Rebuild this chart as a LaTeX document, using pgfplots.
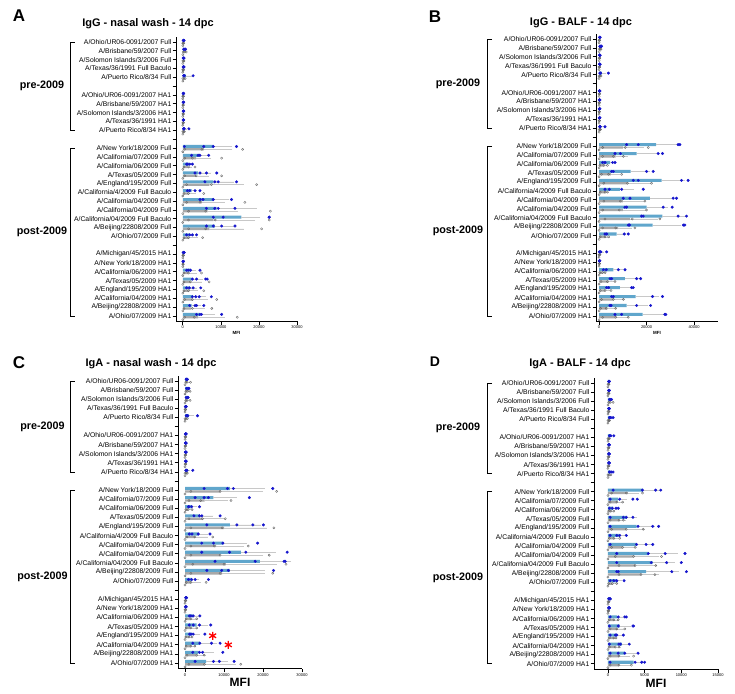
\documentclass[border=0pt]{standalone}
\usepackage{fontspec}
\setmainfont{Liberation Sans}
\usepackage{pgfplots}
\usepackage{pgfplotstable}
\pgfplotsset{compat=1.18}
\definecolor{barblue}{RGB}{96,166,204}
\definecolor{bargrey}{RGB}{168,168,168}
\definecolor{dotblue}{RGB}{22,22,205}
\definecolor{dotgrey}{RGB}{105,105,105}
\definecolor{errgrey}{RGB}{200,200,200}

\pgfplotstableread{
p bm be b1 b2 b3 b4 gm ge g1 g2 g3
1 200 100 100 200 300 250 100 100 0 150 250
2 400 300 200 400 600 700 300 300 100 500 900
3 200 100 100 200 250 300 150 100 0 200 300
4 200 100 100 150 200 300 100 50 0 100 200
5 800 1500 200 300 400 2700 300 300 0 300 600
7 150 50 100 150 200 200 100 50 0 100 150
8 150 50 100 150 200 200 100 50 0 100 150
9 150 50 100 150 200 200 100 50 0 100 150
10 150 50 100 150 200 200 100 50 0 100 150
11 500 700 200 300 300 1600 200 200 0 200 400
13 8000 5000 400 5500 8000 14100 5500 7500 500 5000 15700
14 4500 2500 2300 4000 4500 6800 3500 4000 500 2500 10200
15 1600 800 1000 1800 2500 1200 1200 1200 300 1500 3200
16 4000 3500 3200 4500 6200 8900 3500 3500 500 3500 10200
17 8000 5500 5800 8400 9300 14100 7000 9000 1000 7500 19400
18 2300 1500 1800 3200 4500 1200 1500 2000 300 1500 5500
19 8000 4000 4500 5300 8000 12800 5000 6000 1000 4500 16300
20 8900 10500 6200 8400 9300 13700 6500 8000 1500 6000 23000
21 15400 5000 8000 10600 22700 22700 8000 11000 1500 8500 22700
22 8400 5000 6200 8000 10200 13700 7000 9000 1500 6000 20700
23 1800 1000 1800 2500 3600 1000 1500 2500 300 1500 5200
25 200 100 100 200 300 300 100 50 0 100 200
26 100 50 50 100 150 150 50 50 0 50 100
27 2000 1500 1400 2000 4500 1000 1500 2200 300 1500 4900
28 2300 3000 2500 3600 6000 6400 2000 3000 300 2000 6900
29 1800 2000 1700 2700 4700 1000 1500 2500 300 1500 5500
30 2700 3500 2500 3400 4300 7500 2500 4000 500 2500 8900
31 2300 2500 1800 3200 3600 5500 2200 3500 300 2500 7600
32 4500 4000 3600 4500 4900 10200 4000 7000 500 3000 14300
}\tA

\pgfplotstableread{
p bm be b1 b2 b3 b4 gm ge g1 g2 g3
1 300 200 200 300 400 300 200 100 0 200 300
2 600 400 300 600 900 1000 400 300 100 500 800
3 300 200 200 300 400 300 200 100 0 200 300
4 300 200 200 300 400 300 200 100 0 200 300
5 1200 1800 300 500 600 3900 500 400 0 500 800
7 200 100 100 200 300 300 100 100 0 100 200
8 200 100 100 200 300 300 100 100 0 100 200
9 200 100 100 200 300 300 100 100 0 100 200
10 200 100 100 200 300 300 100 100 0 100 200
11 800 1200 300 400 500 2500 300 300 0 300 600
13 24000 10000 11600 16500 33300 34000 10000 9000 1500 11000 20700
14 15800 9000 6700 9000 24900 26700 7000 5000 1500 6000 10200
15 4600 2500 1500 2500 5700 6700 2000 1500 300 2000 3500
16 13300 8000 5300 6000 20000 22800 5000 4000 1000 4000 9500
17 26300 10000 14400 16500 34700 37500 12000 10000 2000 12000 22100
18 8800 6000 2500 4300 9500 18600 2500 1500 500 2500 3500
19 21400 10000 10200 13000 31200 32600 10000 9000 2000 9000 19300
20 20000 9000 10900 11600 27000 30800 10000 10000 1500 8500 20000
21 26700 10000 17900 18600 33300 36800 13000 12000 2500 14000 25600
22 22500 12000 12300 12800 35500 36100 8000 6000 1500 7000 15100
23 7400 4000 2500 3200 10600 12300 2500 2000 500 2500 4000
25 700 1500 140 700 700 3200 200 200 0 200 400
26 200 100 100 200 200 300 100 100 0 100 200
27 6000 4000 1800 3000 8100 10900 1500 1000 300 1500 2500
28 10900 6000 4600 5300 15800 17500 4000 3000 800 3500 6700
29 8800 5000 3200 4000 13700 14400 2500 2500 500 2500 5000
30 15400 10000 5300 6000 22500 26700 6000 5000 1000 6000 10200
31 11600 9000 4600 5000 15800 21700 3500 3500 600 3000 7000
32 18300 10000 6700 9500 27700 28100 7000 5500 1500 7000 12300
}\tB

\pgfplotstableread{
p bm be b1 b2 b3 b4 gm ge g1 g2 g3
1 500 300 300 500 600 400 500 700 200 500 1400
2 800 500 400 800 1000 900 600 600 200 700 1300
3 600 400 300 600 800 700 500 500 200 500 1300
4 200 100 100 200 200 300 100 100 0 100 200
5 900 1500 300 500 700 3200 300 300 0 300 600
7 200 100 100 200 300 200 100 100 0 100 200
8 200 100 100 200 300 200 100 100 0 100 200
9 200 100 100 200 300 200 100 100 0 100 200
10 200 100 100 200 300 200 100 100 0 100 200
11 600 800 200 400 500 2000 300 300 0 300 600
13 11500 9000 4900 10900 12400 22500 9000 11000 1500 9000 23500
14 7300 6000 2600 4900 6000 16500 5000 6000 1000 4000 11800
15 1700 1300 900 1700 3700 1000 800 800 200 800 1800
16 3800 3500 2300 3700 4300 9000 4500 5500 1000 4500 10300
17 11500 8000 5600 13300 17400 20100 10000 11000 1500 9500 22800
18 3400 2500 1100 3400 6400 1800 2500 3500 500 2500 7100
19 9800 6000 4300 7300 9700 18600 8000 7000 1500 7500 16200
20 14300 9000 4300 11400 15600 26200 9000 11000 1500 9000 21600
21 19200 8000 7700 18000 25400 25700 10500 13000 2000 10000 25900
22 11500 9000 5600 9400 11100 22700 9500 11000 1500 9000 22500
23 1700 2000 900 1700 2600 6000 1500 2500 300 1500 5400
25 300 200 200 300 400 300 100 100 0 100 200
26 200 100 100 200 300 200 100 100 0 100 200
27 2100 1500 1100 2100 3800 1500 1500 1500 300 1500 3000
28 3000 3000 1100 2100 3700 6600 1500 1500 300 1500 3000
29 1800 2000 1500 2100 5100 1200 1000 800 200 1000 1800
30 3800 4500 2000 3800 6800 9000 1500 1000 300 1500 2500
31 3400 4000 2000 3700 4500 9700 3000 2500 500 3000 4900
32 5400 5500 2600 7300 8800 12600 5000 8000 1000 5000 14300
}\tC

\pgfplotstableread{
p bm be b1 b2 b3 b4 gm ge g1 g2 g3
1 150 100 100 150 200 150 100 50 0 100 150
2 150 100 100 150 200 150 100 50 0 100 150
3 300 300 200 300 400 500 300 300 100 300 700
4 150 100 100 150 200 150 100 50 0 100 150
5 300 300 200 300 400 700 100 100 0 100 200
7 300 300 200 300 400 800 100 100 0 100 200
8 150 100 100 150 200 150 100 50 0 100 150
9 150 100 100 150 200 150 100 50 0 100 150
10 150 100 100 150 200 150 100 50 0 100 150
11 300 300 200 300 500 700 200 200 0 200 400
13 4800 2500 700 4700 6500 7200 2700 1500 500 2500 4700
14 1400 1200 300 1600 3400 4000 1200 1000 300 1200 2000
15 700 500 200 600 1100 1400 400 400 100 400 800
16 2500 1500 300 2100 2500 3400 1500 1000 300 1500 2100
17 3900 2500 300 4100 6100 6900 2500 2500 500 2500 4800
18 1500 800 300 1600 2500 1200 800 600 200 800 1600
19 3900 2000 300 3900 5200 6100 2000 2000 500 2000 3700
20 5500 4000 1200 5500 7800 10500 3500 3500 1000 3500 7300
21 6100 3000 1200 5900 8000 10000 3700 3000 1500 3700 6500
22 5200 4500 1200 1400 8700 10700 4500 2500 1500 4500 6400
23 1200 700 300 1200 2200 800 600 500 100 600 1200
25 300 200 100 200 300 300 100 50 0 100 150
26 200 100 100 150 200 200 100 50 0 50 100
27 1200 1200 300 1400 2300 2500 800 700 200 800 1400
28 1600 1500 200 1400 3400 3500 1200 1000 300 1200 2300
29 1200 800 300 1200 2100 1000 800 500 200 800 1100
30 1900 1200 200 1700 2900 1500 1000 800 200 1000 1500
31 2300 1800 300 1400 2300 4100 1500 1500 300 1500 3500
32 3500 1500 300 3700 4600 5000 1500 1500 300 1500 3200
}\tD

\pgfplotsset{
  panel/.style={
    scale only axis,
    axis x line*=bottom, axis y line*=left,
    axis line style={line width=1pt},
    ymin=-32.6, ymax=-0.4,
    ytick={-1,-2,...,-32},
    yticklabels={A/Ohio/UR06-0091/2007 Full,A/Brisbane/59/2007 Full,A/Solomon Islands/3/2006 Full,A/Texas/36/1991 Full Baculo,A/Puerto Rico/8/34 Full,{},A/Ohio/UR06-0091/2007 HA1,A/Brisbane/59/2007 HA1,A/Solomon Islands/3/2006 HA1,A/Texas/36/1991 HA1,A/Puerto Rico/8/34 HA1,{},A/New York/18/2009 Full,A/California/07/2009 Full,A/California/06/2009 Full,A/Texas/05/2009 Full,A/England/195/2009 Full,A/California/4/2009 Full Baculo,A/California/04/2009 Full,A/California/04/2009 Full,A/California/04/2009 Full Baculo,A/Beijing/22808/2009 Full,A/Ohio/07/2009 Full,{},A/Michigan/45/2015 HA1,A/New York/18/2009 HA1,A/California/06/2009 HA1,A/Texas/05/2009 HA1,A/England/195/2009 HA1,A/California/04/2009 HA1,A/Beijing/22808/2009 HA1,A/Ohio/07/2009 HA1},
    y tick label style={font=\fontsize{6.8}{8}\selectfont, inner sep=1pt},
    x tick label style={font=\fontsize{4}{5}\selectfont, inner sep=1pt},
    tick align=outside,
    major tick length=3.5pt,
    tick style={line width=0.8pt, black},
    /pgf/number format/assume math mode=true,
    /pgf/number format/set thousands separator={},
    scaled x ticks=false,
    clip=false,
    xlabel={MFI},
  }
}

\newcommand{\panelplots}[1]{%
  \addplot[xbar, bar width=0.34, bar shift=0pt, fill=barblue, draw=none,
    error bars/.cd, x dir=plus, x explicit, error bar style={errgrey, line width=0.5pt}, error mark=none]
    table[x=bm, y expr=-\thisrow{p}+0.18, x error=be]{#1};
  \addplot[xbar, bar width=0.26, bar shift=0pt, fill=bargrey, draw=none,
    error bars/.cd, x dir=plus, x explicit, error bar style={errgrey, line width=0.5pt}, error mark=none]
    table[x=gm, y expr=-\thisrow{p}-0.14, x error=ge]{#1};
  \addplot[only marks, mark=o, mark size=1.1pt, dotgrey, mark options={line width=0.4pt}] table[x=g1, y expr=-\thisrow{p}-0.14]{#1};
  \addplot[only marks, mark=o, mark size=1.1pt, dotgrey, mark options={line width=0.4pt}] table[x=g2, y expr=-\thisrow{p}-0.14]{#1};
  \addplot[only marks, mark=o, mark size=1.1pt, dotgrey, mark options={line width=0.4pt}] table[x=g3, y expr=-\thisrow{p}-0.14]{#1};
  \addplot[only marks, mark=o, mark size=1.1pt, dotgrey, mark options={line width=0.4pt}] table[x expr=0, y expr=-\thisrow{p}-0.42]{#1};
  \addplot[only marks, mark=*, mark size=1.3pt, dotblue] table[x=b1, y expr=-\thisrow{p}+0.18]{#1};
  \addplot[only marks, mark=*, mark size=1.3pt, dotblue] table[x=b2, y expr=-\thisrow{p}+0.18]{#1};
  \addplot[only marks, mark=*, mark size=1.3pt, dotblue] table[x=b3, y expr=-\thisrow{p}+0.18]{#1};
  \addplot[only marks, mark=*, mark size=1.3pt, dotblue] table[x=b4, y expr=-\thisrow{p}+0.18]{#1};
}

% #1 xmin, #2 bracket distance, #3 label distance
\newcommand{\brackets}[3]{%
  \draw[line width=0.8pt] ([xshift=-#2pt+5pt]axis cs:#1,-1) -- ([xshift=-#2pt]axis cs:#1,-1) -- ([xshift=-#2pt]axis cs:#1,-11) -- ([xshift=-#2pt+5pt]axis cs:#1,-11);
  \draw[line width=0.8pt] ([xshift=-#2pt+5pt]axis cs:#1,-13) -- ([xshift=-#2pt]axis cs:#1,-13) -- ([xshift=-#2pt]axis cs:#1,-32) -- ([xshift=-#2pt+5pt]axis cs:#1,-32);
  \node[font=\bfseries\fontsize{10.8}{12}\selectfont] at ([xshift=-#3pt]axis cs:#1,-6) {pre-2009};
  \node[font=\bfseries\fontsize{10.8}{12}\selectfont] at ([xshift=-#3pt]axis cs:#1,-22.5) {post-2009};
}

\begin{document}
\begin{tikzpicture}
\useasboundingbox (0pt,0pt) rectangle (735pt,-693pt);

% Panel A
\begin{axis}[panel, at={(176pt,-36.7pt)}, anchor=north west, width=121pt, height=284.6pt,
  xmin=-1800, xmax=30000, xtick={0,10000,20000,30000},
  xlabel style={font=\bfseries\fontsize{4.5}{5}\selectfont, inner sep=1pt}]
  \panelplots{\tA}
  \brackets{-1800}{106}{134}
\end{axis}

% Panel B
\begin{axis}[panel, at={(596pt,-33.6pt)}, anchor=north west, width=121.8pt, height=287.8pt,
  xmin=-1300, xmax=50000, xtick={0,20000,40000},
  xlabel style={font=\bfseries\fontsize{4.5}{5}\selectfont, inner sep=1pt}]
  \panelplots{\tB}
  \brackets{-1300}{109}{138}
\end{axis}

% Panel C
\begin{axis}[panel, at={(178pt,-375.5pt)}, anchor=north west, width=124pt, height=293pt,
  xmin=-1800, xmax=30000, xtick={0,10000,20000,30000},
  xlabel style={font=\bfseries\fontsize{12}{13}\selectfont, inner sep=1pt}]
  \panelplots{\tC}
  \brackets{-1800}{108}{135.5}
  \addplot[only marks, mark=asterisk, mark size=4pt, red, mark options={line width=1.3pt}] coordinates {(7100,-29) (11100,-30)};
\end{axis}

% Panel D
\begin{axis}[panel, at={(594pt,-377.6pt)}, anchor=north west, width=124pt, height=291.7pt,
  xmin=-1900, xmax=15000, xtick={0,5000,10000,15000},
  xlabel style={font=\bfseries\fontsize{12}{13}\selectfont, inner sep=1pt}]
  \panelplots{\tD}
  \brackets{-1900}{107}{136}
\end{axis}

% titles and panel letters
\node[font=\bfseries\fontsize{11}{13}\selectfont] at (148pt,-24pt) {IgG - nasal wash - 14 dpc};
\node[font=\bfseries\fontsize{11}{13}\selectfont] at (581pt,-23pt) {IgG - BALF - 14 dpc};
\node[font=\bfseries\fontsize{11}{13}\selectfont] at (151pt,-364pt) {IgA - nasal wash - 14 dpc};
\node[font=\bfseries\fontsize{11}{13}\selectfont] at (580pt,-364pt) {IgA - BALF - 14 dpc};
\node[font=\bfseries\fontsize{17}{18}\selectfont] at (19pt,-16pt) {A};
\node[font=\bfseries\fontsize{17}{18}\selectfont] at (435pt,-17pt) {B};
\node[font=\bfseries\fontsize{17}{18}\selectfont] at (19pt,-363pt) {C};
\node[font=\bfseries\fontsize{14}{15}\selectfont] at (435pt,-362pt) {D};
\end{tikzpicture}
\end{document}
